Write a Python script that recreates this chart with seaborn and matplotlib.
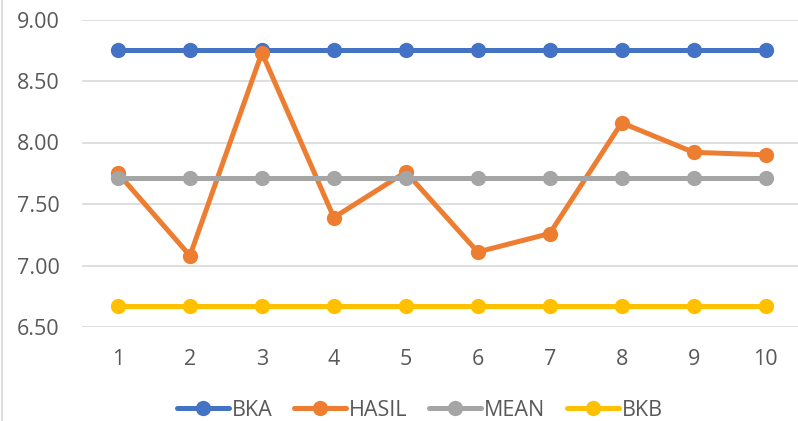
import numpy as np
import pandas as pd
import seaborn as sns
from matplotlib import pyplot as plt
from matplotlib.lines import Line2D

sns.set_theme(style="white")
plt.rcParams["font.family"] = ["Open Sans", "DejaVu Sans"]

x = [1, 2, 3, 4, 5, 6, 7, 8, 9, 10]
bka = [8.75] * 10
hasil = [7.75, 7.08, 8.73, 7.39, 7.76, 7.11, 7.26, 8.16, 7.92, 7.90]
mean = [7.71] * 10
bkb = [6.67] * 10
series = ["BKA", "HASIL", "MEAN", "BKB"]
colors = ["#4472C4", "#ED7D31", "#A5A5A5", "#FFC000"]
yticks = [6.50, 7.00, 7.50, 8.00, 8.50, 9.00]

df = pd.concat(
    [
        pd.DataFrame({"x": x, "value": vals, "series": name})
        for name, vals in zip(series, [bka, hasil, mean, bkb])
    ],
    ignore_index=True,
)

fig = plt.figure(figsize=(7.98, 4.21), dpi=100)
ax = fig.add_axes([82 / 798, 1 - 327 / 421, 1 - 82 / 798, (327 - 19.5) / 421])

sns.lineplot(
    data=df,
    x="x",
    y="value",
    hue="series",
    hue_order=series,
    palette=colors,
    style="series",
    markers={s: "o" for s in series},
    dashes=False,
    linewidth=3.6,
    markersize=11,
    markeredgewidth=0,
    ax=ax,
    legend=False,
)

ax.set_xlim(0.5, 10.45)
ax.set_ylim(6.5, 9.0)
ax.set_yticks(yticks)
ax.set_yticklabels([f"{v:.2f}" for v in yticks])
ax.set_xticks(x)
ax.set_xticklabels([str(v) for v in x])
ax.grid(axis="y", color="#D9D9D9", linewidth=1.2, zorder=0)
ax.set_axisbelow(True)
for side in ["top", "right", "left", "bottom"]:
    ax.spines[side].set_visible(False)
ax.tick_params(axis="both", length=0, labelsize=15.5, labelcolor="#595959")
ax.tick_params(axis="y", pad=16)
ax.tick_params(axis="x", pad=16)
ax.set_xlabel("")
ax.set_ylabel("")

handles = [
    Line2D([0], [0], color=c, linewidth=3.6, marker="o", markersize=11,
           markeredgewidth=0)
    for c in colors
]
fig.legend(
    handles,
    series,
    loc="center",
    bbox_to_anchor=(420 / 798, 1 - 410 / 421),
    ncol=4,
    frameon=False,
    fontsize=15.5,
    labelcolor="#595959",
    handlelength=2.4,
    handletextpad=0.15,
    columnspacing=1.0,
)

fig.add_artist(Line2D([2 / 798, 2 / 798], [0, 1], color="#D9D9D9", linewidth=1.2))

fig.savefig("out.png", dpi=100)
